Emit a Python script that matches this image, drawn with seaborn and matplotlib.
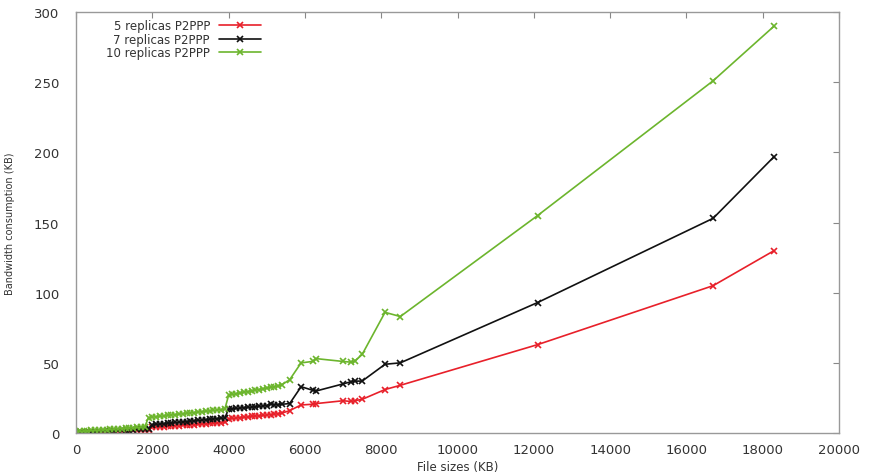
import matplotlib
matplotlib.use("Agg")
import matplotlib.pyplot as plt
import seaborn as sns
import pandas as pd

file_sizes = [
    0, 100, 200, 300, 400, 500, 600, 700, 800, 900,
    1000, 1100, 1200, 1300, 1400, 1500, 1600, 1700, 1800, 1900,
    2000, 2100, 2200, 2300, 2400, 2500, 2600, 2700, 2800, 2900,
    3000, 3100, 3200, 3300, 3400, 3500, 3600, 3700, 3800, 3900,
    4000, 4100, 4200, 4300, 4400, 4500, 4600, 4700, 4800, 4900,
    5000, 5100, 5200, 5300, 5400,
    5600, 5900, 6200, 6300, 7000, 7200, 7300, 7500, 8100, 8500,
    12100, 16700, 18300,
]

rep5 = [
    0.2, 0.3, 0.4, 0.5, 0.6, 0.6, 0.8, 0.9, 1.0, 1.1,
    1.2, 1.3, 1.4, 1.5, 1.6, 1.8, 1.9, 2.0, 2.2, 2.4,
    4.0, 4.3, 4.4, 4.6, 4.8, 5.0, 5.1, 5.3, 5.5, 5.6,
    5.9, 6.0, 6.2, 6.4, 6.5, 6.8, 7.0, 7.1, 7.4, 7.6,
    10.0, 10.4, 10.6, 11.0, 11.2, 11.5, 11.8, 12.0, 12.3, 12.5,
    12.9, 13.1, 13.4, 13.8, 14.2,
    16, 20, 20.5, 21, 23, 22.5, 23, 24, 31, 34,
    63, 105, 130,
]

rep7 = [
    0.5, 0.6, 0.7, 0.8, 0.9, 1.0, 1.1, 1.3, 1.4, 1.5,
    1.7, 1.8, 2.0, 2.1, 2.3, 2.4, 2.6, 2.7, 2.9, 3.1,
    6.0, 6.2, 6.5, 6.7, 7.0, 7.2, 7.5, 7.7, 8.0, 8.2,
    8.5, 8.7, 9.0, 9.2, 9.5, 9.7, 10.0, 10.2, 10.5, 10.8,
    17.0, 17.3, 17.5, 17.8, 18.0, 18.3, 18.5, 18.8, 19.0, 19.3,
    19.5, 21.0, 20.0, 20.3, 20.5,
    21, 33, 30.5, 30, 35, 36.5, 37, 37, 49, 50,
    93, 153, 197,
]

rep10 = [
    1.0, 1.2, 1.4, 1.6, 1.8, 2.0, 2.1, 2.3, 2.5, 2.7,
    2.9, 3.0, 3.2, 3.4, 3.6, 3.8, 4.0, 4.2, 4.4, 11.0,
    11.3, 11.6, 11.9, 12.2, 12.5, 12.8, 13.1, 13.4, 13.7, 14.0,
    14.3, 14.6, 14.9, 15.2, 15.5, 15.8, 16.1, 16.4, 16.7, 17.0,
    27.0, 27.5, 28.0, 28.5, 29.0, 29.5, 30.0, 30.5, 31.0, 31.5,
    32.0, 32.5, 33.0, 33.5, 34.5,
    38, 50, 51, 53, 51, 50.5, 51, 56, 86, 83,
    155, 251, 290,
]

series_labels = ["5 replicas P2PPP", "7 replicas P2PPP", "10 replicas P2PPP"]
series_colors = ["#e8202a", "#111111", "#6cb52d"]

x_ticks = [0, 2000, 4000, 6000, 8000, 10000, 12000, 14000, 16000, 18000, 20000]
y_ticks = [0, 50, 100, 150, 200, 250, 300]

sns.set_theme(style="white")
plt.rcParams["font.family"] = ["DejaVu Sans"]

fig = plt.figure(figsize=(8.7, 4.77), dpi=100)
ax = fig.add_axes([0.0874, 0.0901, 0.877, 0.8826])

for vals, lab, col in zip([rep5, rep7, rep10], series_labels, series_colors):
    df = pd.DataFrame({"size": file_sizes, "bw": vals})
    sns.lineplot(data=df, x="size", y="bw", ax=ax, color=col, label=lab,
                 marker="x", markersize=5, markeredgewidth=1.2,
                 markeredgecolor=col, linewidth=1.2, sort=True)

ax.set_xlim(0, 20000)
ax.set_ylim(0, 300)
ax.set_xticks(x_ticks)
ax.set_yticks(y_ticks)
ax.tick_params(direction="in", length=4, width=0.8, color="#888888",
               top=True, right=True, labelsize=9.5, labelcolor="#333333")
ax.tick_params(axis="y", pad=12)
ax.tick_params(axis="x", pad=7)
for sp in ax.spines.values():
    sp.set_color("#999999")
    sp.set_linewidth(1.0)

ax.set_xlabel("File sizes (KB)", fontsize=8.5, color="#333333", labelpad=3)
ax.set_ylabel("Bandwidth consumption (KB)", fontsize=7, color="#333333", labelpad=14)

leg = ax.legend(loc="upper left", bbox_to_anchor=(0.03, 1.0), frameon=False,
                markerfirst=False, fontsize=8.5, handlelength=3.5,
                labelspacing=0.05, handletextpad=0.8, borderaxespad=0.2)
for t in leg.get_texts():
    t.set_color("#333333")

fig.savefig("out.png", dpi=100)
